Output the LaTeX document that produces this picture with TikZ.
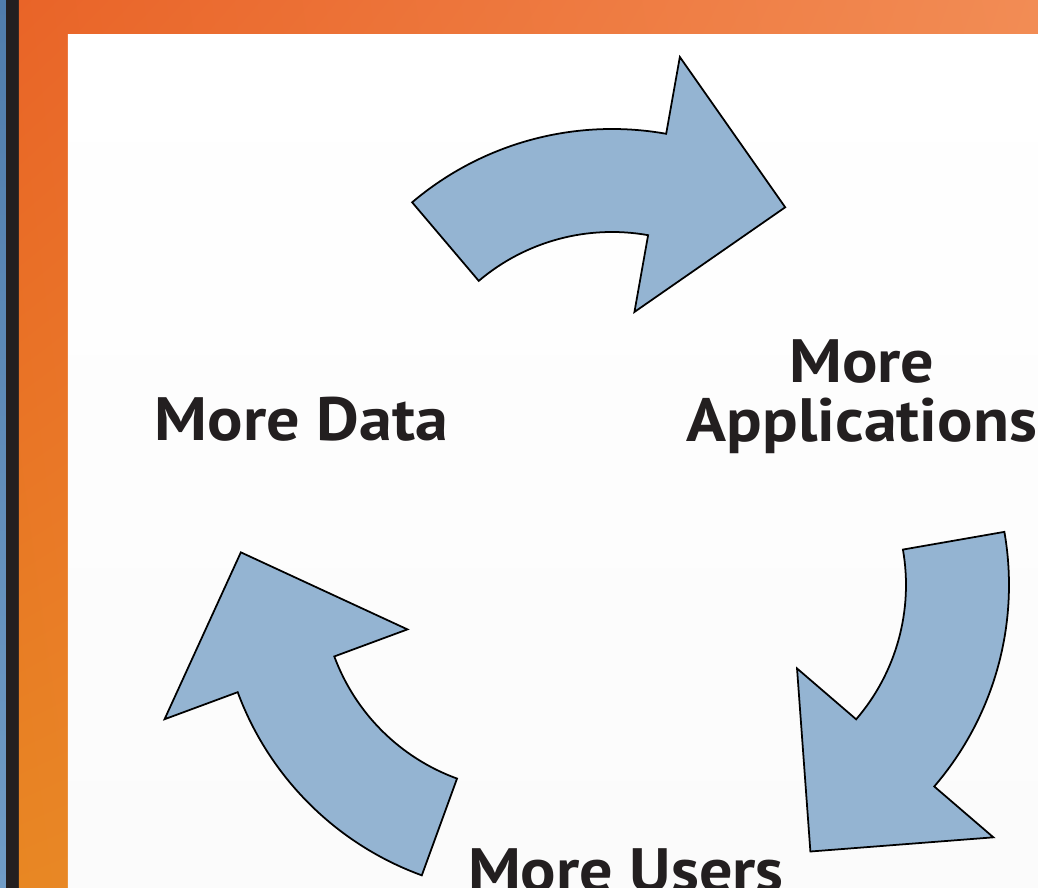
\documentclass[tikz,border=0pt]{standalone}
\usepackage{fontspec}
\setmainfont{PT Sans}
\newfontfamily\labelfont{PT Sans}[FakeStretch=1.08]
\usetikzlibrary{calc,shadings}

\definecolor{cyclefill}{RGB}{148,180,210}
\definecolor{labelgray}{RGB}{35,31,32}
\definecolor{frameA}{RGB}{233,100,40}
\definecolor{frameB}{RGB}{242,140,85}
\definecolor{frameC}{RGB}{232,135,35}
\definecolor{frameD}{RGB}{240,150,80}
\definecolor{stripA}{RGB}{80,125,172}
\definecolor{stripB}{RGB}{112,156,198}
\definecolor{stripdark}{RGB}{35,31,32}
\definecolor{paperlow}{RGB}{251,251,251}

% one curved arrow of the cycle: centre, start angle, end angle
\newcommand{\cyclearrow}[3]{%
  \draw[cycle arrow] ($(#1)+(#2:309)$) arc[start angle=#2, end angle=#3, radius=309]
    -- ($(#1)+(#3:387)$) -- ($(#1)+(#3-26.8:288.5)$)
    -- ($(#1)+(#3:128)$) -- ($(#1)+(#3:206)$)
    arc[start angle=#3, end angle=#2, radius=206] -- cycle;}

\begin{document}
\begin{tikzpicture}[x=0.01cm,y=0.01cm,
                    cycle arrow/.style={fill=cyclefill,draw=black,line width=0.5pt,line join=miter},
                    label text/.style={anchor=base,inner sep=0pt,text=labelgray,align=center,
                                       font=\labelfont\bfseries\fontsize{17.4}{16.9}\selectfont}]
  \clip (0,0) rectangle (1038,888);

  % frame
  \shade[top color=stripA,bottom color=stripB] (0,0) rectangle (7,888);
  \fill[stripdark] (6,0) rectangle (19,888);
  \shade[upper left=frameA,upper right=frameB,lower left=frameC,lower right=frameD]
    (19,0) rectangle (1038,888);
  \shade[top color=white,bottom color=paperlow] (68,0) rectangle (1038,853);

  % centres of the three arrows
  \coordinate (top) at (612,450);
  \coordinate (right) at (700,303);
  \coordinate (left) at (527.5,303);

  \cyclearrow{top}{130.3}{79.9}
  \cyclearrow{right}{9.9}{-40.7}
  \cyclearrow{left}{250}{200.3}

  \node[label text] (data)  at (301.5,447) {More Data};
  \node[label text] (apps)  at (862,446)   {More\\Applications};
  \node[label text] (users) at (626,-4)    {More Users};

\end{tikzpicture}
\end{document}
